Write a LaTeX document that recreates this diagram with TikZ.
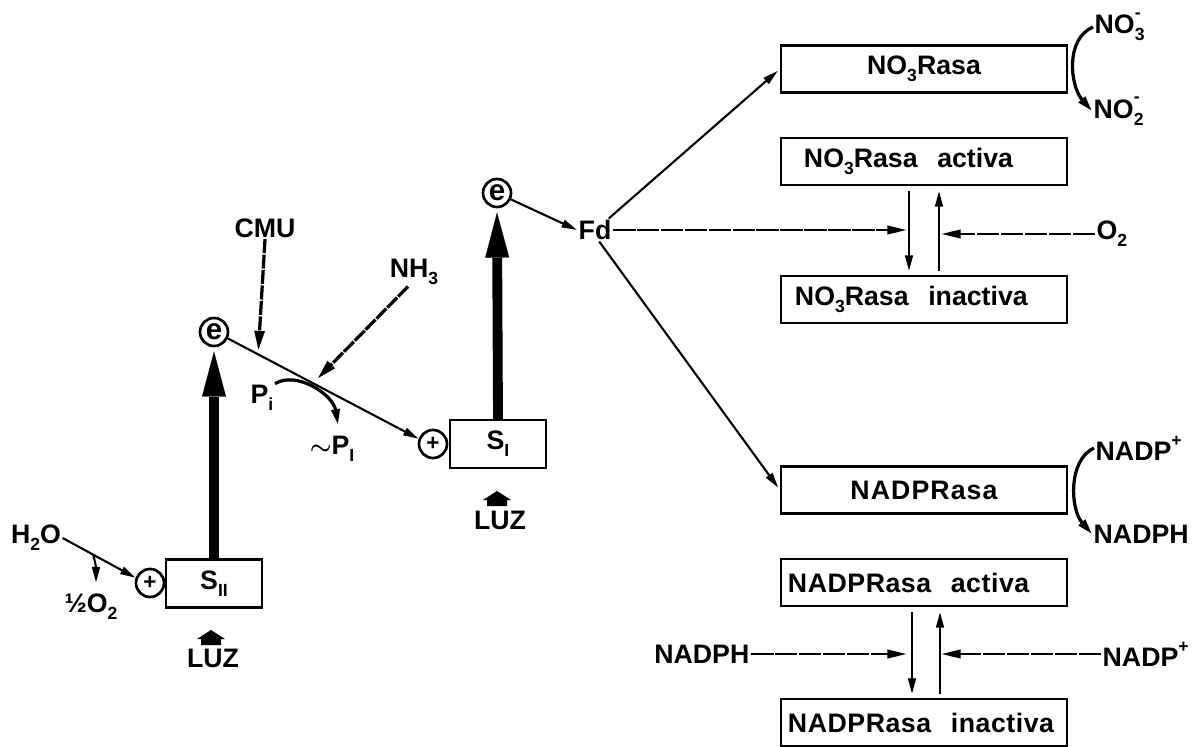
\documentclass[tikz,border=0pt]{standalone}
\usepackage{fontspec}
\setmainfont{Liberation Sans}
\usetikzlibrary{arrows.meta,calc}
\newcommand\lbl{\fontsize{19}{20}\selectfont\bfseries}
\newcommand\sbs[1]{\raisebox{-0.5ex}{\fontsize{12.5}{13}\selectfont #1}}
\newcommand\ssp[2]{\rlap{\raisebox{-0.5ex}{\fontsize{12.5}{13}\selectfont #1}}\raisebox{1.1ex}{\fontsize{12.5}{13}\selectfont #2}}
\tikzset{
  ar/.style={line width=1.5pt, -{Triangle[length=11pt,width=5.5pt]}},
  darr/.style={line width=1.9pt, dash pattern=on 16pt off 1pt, -{Triangle[length=14pt,width=6pt]}},
  rough/.style={line width=2.3pt, dash pattern=on 10pt off 1pt, -{Triangle[length=14pt,width=7pt]}},
  big/.style={line width=7pt, -{Triangle[length=32pt,width=17pt,line width=0.1pt]}},
  curv/.style={line width=2.3pt, -{Triangle[length=11pt,width=6pt]}},
  box/.style={draw, line width=1.5pt, minimum width=7.15cm, minimum height=1.175cm, inner ysep=0pt, font=\lbl},
  sbox/.style={draw, line width=1.5pt, minimum width=2.4cm, minimum height=1.2cm, inner sep=0pt, font=\lbl},
  circ/.style={draw, circle, line width=1.9pt, minimum size=0.7cm, inner sep=0pt},
  txt/.style={font=\lbl, inner sep=1pt},
  luzicon/.pic={\fill (0,-8) -- (14,1) -- (10,1) -- (10,7) -- (-10,7) -- (-10,1) -- (-14,1) -- cycle;}
}
\begin{document}
\begin{tikzpicture}[x=0.025cm,y=-0.025cm]
\useasboundingbox (0,0) rectangle (1196,747);

% left part
\node[circ, font=\fontsize{21}{21}\selectfont\bfseries] (e1) at (214,332) {e};
\node[circ, font=\fontsize{21}{21}\selectfont\bfseries] (e2) at (497,193) {e};
\node[circ, font=\fontsize{16}{16}\selectfont\bfseries] (plusL) at (150,583) {+};
\node[circ, font=\fontsize{16}{16}\selectfont\bfseries] (plusR) at (433,444) {+};
\node[sbox] (s2) at (214,583.5) {S\sbs{II}};
\node[sbox] (s1) at (498,444) {S\sbs{I}};
\node[txt] (luz2) at (213,658) {LUZ};
\node[txt] (luz1) at (500,520) {LUZ};
\pic at (211,638) {luzicon};
\pic at (497,499) {luzicon};
\node[txt] (h2o) at (36,538) {H\sbs{2}O};
\node[txt] (halfo) at (91,607) {½O\sbs{2}};
\node[txt] (cmu) at (265,228) {CMU};
\node[txt] (nh3) at (414,272) {NH\sbs{3}};
\node[txt] (pi) at (262,398) {P\sbs{i}};
\node[txt] (pti) at (332,449) {{\boldmath$\sim$}P\sbs{I}};
\node[txt] (fd) at (595,230) {Fd};

% right part boxes
\node[box] (no3) at (924,69) {NO\sbs{3}Rasa};
\node[box, text width=6.0cm, inner xsep=0.575cm, align=left] (act) at (924,161.5) {NO\sbs{3}Rasa\hspace{0.4em} activa};
\node[box, text width=6.45cm, inner xsep=0.35cm, align=left] (inact) at (924,299.5) {NO\sbs{3}Rasa\hspace{0.4em} inactiva};
\node[box] (nadp) at (924,490) {\addfontfeature{LetterSpace=4}NADPRasa};
\node[box, text width=6.8cm, inner xsep=0.175cm, align=left] (nact) at (924,582.5) {\addfontfeature{LetterSpace=2}NADPRasa\hspace{0.4em} activa};
\node[box, text width=6.8cm, inner xsep=0.175cm, align=left] (ninact) at (924,722.5) {\addfontfeature{LetterSpace=2}NADPRasa\hspace{0.4em} inactiva};

% right labels
\node[txt, anchor=west] (no3m) at (1093,27) {NO\ssp{3}{-}};
\node[txt, anchor=west] (no2m) at (1092,111) {NO\ssp{2}{-}};
\node[txt, anchor=west] (o2) at (1095,234) {O\sbs{2}};
\node[txt, anchor=west] (nadpp) at (1094,448) {NADP\raisebox{1.0ex}{\fontsize{12.5}{13}\selectfont +}};
\node[txt, anchor=west] (nadph) at (1092,534) {NADPH};
\node[txt, anchor=west] (nadpp2) at (1101,654) {NADP\raisebox{1.0ex}{\fontsize{12.5}{13}\selectfont +}};
\node[txt, anchor=east] (nadphL) at (751,654) {NADPH};

% thick light arrows
\draw[big] (s2.north) -- ([yshift=-3pt]e1.south);
\draw[big] (s1.north) -- ([yshift=-3pt]e2.south);

% electron transport
\draw[ar] (h2o.east) -- (plusL.160);
\path (h2o.east) -- (plusL.160) coordinate[pos=0.42] (brO);
\coordinate (halfotip) at ($(halfo.north)+(5,-10)$);
\draw[ar] (brO) .. controls +(3,12) and +(0,-14) .. (halfotip);
\draw[ar] (e1.-25) -- (plusR.160);
\coordinate (cmuT) at ($(e1.-25)!0.16!(plusR.160)+(0,-4)$);
\coordinate (nh3T) at ($(e1.-25)!0.47!(plusR.160)+(0,-7)$);
\draw[rough] (cmu.south) -- (cmuT);
\draw[rough] ($(nh3.south)+(-6,0)$) -- (nh3T);
\coordinate (pitip) at ($(pti.north)+(6,-10)$);
\draw[curv] (pi.north east) .. controls +(22,-13) and +(-5,-30) .. (pitip);

% ferredoxin
\draw[ar] (e2) -- (fd.west);
\draw[ar, shorten >=2pt] (fd.40) -- (no3.west);
\draw[ar, shorten >=2pt] (fd.-70) -- (nadp.west);

% NO3Rasa regulation
\coordinate (gapL) at ($(act.south)+(-17,0)$);
\coordinate (gapR) at ($(act.south)+(17,0)$);
\draw[ar] ($(act.south)+(-15,5)$) -- ($(inact.north)+(-15,-4)$);
\draw[ar] ($(inact.north)+(15,-4)$) -- ($(act.south)+(15,5)$);
\draw[darr] (fd.east) -- (fd.east -| gapL);
\draw[darr] (o2.west) -- (o2.west -| gapR);
\draw[curv] (no3m.west) .. controls +(-28,12) and +(-22,-25) .. (no2m.west);

% NADPRasa regulation
\coordinate (gapL2) at ($(nact.south)+(-17,0)$);
\coordinate (gapR2) at ($(nact.south)+(17,0)$);
\draw[ar] ($(nact.south)+(-12,5)$) -- ($(ninact.north)+(-12,-4)$);
\draw[ar] ($(ninact.north)+(16,-4)$) -- ($(nact.south)+(16,5)$);
\draw[darr] (nadphL.east) -- (nadphL.east -| gapL2);
\draw[darr] (nadpp2.west) -- (nadpp2.west -| gapR2);
\draw[curv] (nadpp.west) .. controls +(-26,12) and +(-22,-25) .. (nadph.west);
\end{tikzpicture}
\end{document}
